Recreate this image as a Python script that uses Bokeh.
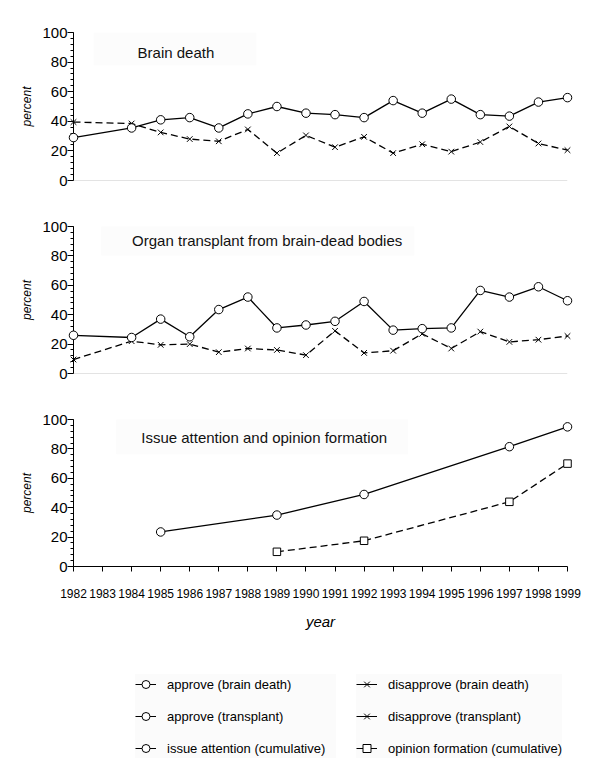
from bokeh.plotting import figure
from bokeh.models import Range1d, FixedTicker, Span, Label, Legend, LegendItem
from bokeh.layouts import column
from bokeh.embed import file_html
from bokeh.resources import INLINE

# ---------------- data ----------------
years_opinion = [1982, 1984, 1985, 1986, 1987, 1988, 1989, 1990, 1991,
                 1992, 1993, 1994, 1995, 1996, 1997, 1998, 1999]
approve_brain_death = [29, 35.5, 41, 42.5, 35.5, 45, 50, 45.5, 44.5,
                       42.5, 54, 45.5, 55, 44.5, 43.5, 53, 56]
disapprove_brain_death = [39.5, 38.5, 32.5, 28, 26.5, 34.5, 18.5, 30.5, 22.5,
                          29.5, 18.5, 24.5, 19.5, 26, 36.5, 25, 20.5]
approve_transplant = [26, 24.5, 37, 25, 43.5, 52, 31, 33, 35.5,
                      49, 29.5, 30.5, 31, 56.5, 52, 59, 49.5]
disapprove_transplant = [9.5, 22, 19.5, 20, 14.5, 17, 16, 12.5, 29,
                         14, 15.5, 27, 17, 28.5, 21.5, 23, 25.5]
years_attention = [1985, 1989, 1992, 1997, 1999]
issue_attention = [23.5, 35, 49, 81.5, 95]
years_formation = [1989, 1992, 1997, 1999]
opinion_formation = [10, 17.5, 44, 70]

year_ticks = [1982, 1983, 1984, 1985, 1986, 1987, 1988, 1989, 1990,
              1991, 1992, 1993, 1994, 1995, 1996, 1997, 1998, 1999]
percent_ticks = [0, 20, 40, 60, 80, 100]
percent_minor = list(range(0, 101, 4))

titles = ["Brain death", "Organ transplant from brain-dead bodies",
          "Issue attention and opinion formation"]
legend_left_labels = ["approve (brain death)", "approve (transplant)",
                      "issue attention (cumulative)"]
legend_left_markers = ["circle", "circle", "circle"]
legend_right_labels = ["disapprove (brain death)", "disapprove (transplant)",
                       "opinion formation (cumulative)"]
legend_right_markers = ["x", "x", "square"]

FONT = "Liberation Sans"
DASH = "7 4"
BORDER_L = 73
BORDER_R = 17
WIDTH = 584


def make_panel(height, top, bottom, show_x):
    p = figure(width=WIDTH, height=height,
               x_range=Range1d(1982, 1999), y_range=Range1d(0, 100),
               x_axis_type="linear" if show_x else None,
               output_backend="svg", toolbar_location=None,
               min_border_left=BORDER_L, min_border_right=BORDER_R,
               min_border_top=top, min_border_bottom=bottom)
    p.outline_line_color = None
    p.grid.visible = False
    p.background_fill_color = "white"
    ax = p.yaxis[0]
    ax.ticker = FixedTicker(ticks=percent_ticks, minor_ticks=percent_minor)
    ax.axis_label = "percent"
    ax.axis_label_text_font = FONT
    ax.axis_label_text_font_style = "italic"
    ax.axis_label_text_font_size = "12px"
    ax.axis_label_text_color = "black"
    ax.axis_label_standoff = 5
    ax.major_label_text_font = FONT
    ax.major_label_text_font_size = "15px"
    ax.major_label_text_color = "black"
    ax.major_label_standoff = 0
    ax.major_tick_out = 6
    ax.major_tick_in = 0
    ax.minor_tick_out = 3
    ax.minor_tick_in = 0
    ax.axis_line_color = "black"
    ax.major_tick_line_color = "black"
    ax.minor_tick_line_color = "black"
    if not show_x:
        p.add_layout(Span(location=0, dimension="width",
                          line_color="#c8c8c8", line_width=1))
    return p


def add_title(p, text, x, y, pad):
    p.add_layout(Label(x=x, y=y, text=text, text_align="left",
                       text_baseline="middle", text_font=FONT,
                       text_font_size="15px", text_color="#111111",
                       background_fill_color="#fcfcfc",
                       padding=pad))


def series(p, xs, ys, marker, dashed, size=8.5):
    p.line(xs, ys, line_color="black", line_width=1.3,
           line_dash=DASH if dashed else "solid", level="overlay")
    p.scatter(xs, ys, marker=marker, size=size, fill_color="white",
              line_color="black", line_width=1, level="overlay")


# Panel 1
p1 = make_panel(200, 32, 20, False)
add_title(p1, titles[0], 1982.69, 89, dict(left=44, right=42, top=12, bottom=4))
series(p1, years_opinion, disapprove_brain_death, "x", True, 8)
series(p1, years_opinion, approve_brain_death, "circle", False)

# Panel 2
p2 = make_panel(192, 26, 19, False)
add_title(p2, titles[1], 1982.95, 91.5, dict(left=31, right=12, top=10, bottom=6))
series(p2, years_opinion, disapprove_transplant, "x", True, 8)
series(p2, years_opinion, approve_transplant, "circle", False)

# Panel 3
p3 = make_panel(248, 27, 74, True)
add_title(p3, titles[2], 1983.47, 89, dict(left=25, right=21, top=12, bottom=8))
series(p3, years_formation, opinion_formation, "square", True, 7.5)
series(p3, years_attention, issue_attention, "circle", False)
xa = p3.xaxis[0]
xa.ticker = FixedTicker(ticks=year_ticks)
xa.axis_label = "year"
xa.axis_label_text_font = FONT
xa.axis_label_text_font_style = "italic"
xa.axis_label_text_font_size = "15px"
xa.axis_label_text_color = "black"
xa.axis_label_standoff = 12
xa.major_label_text_font = FONT
xa.major_label_text_font_size = "12px"
xa.major_label_text_color = "black"
xa.major_label_standoff = 17
xa.major_tick_out = 5
xa.major_tick_in = 0
xa.minor_tick_line_color = None
xa.axis_line_color = "black"
xa.major_tick_line_color = "black"

# Legend panel
pl = figure(width=WIDTH, height=132, x_range=Range1d(0, 1), y_range=Range1d(0, 1),
            x_axis_type=None, y_axis_type=None, output_backend="svg",
            toolbar_location=None, min_border_left=BORDER_L,
            min_border_right=BORDER_R, min_border_top=0, min_border_bottom=0)
pl.outline_line_color = None
pl.grid.visible = False


def legend_items(labels, marks):
    out = []
    for lab, mk in zip(labels, marks):
        lr = pl.line([5, 6], [5, 6], line_color="black", line_width=1)
        sr = pl.scatter([5], [5], marker=mk, size=7 if mk != "square" else 6.5,
                        fill_color="white", line_color="black", line_width=1)
        out.append(LegendItem(label=lab, renderers=[lr, sr]))
    return out


def make_legend(items, x, lw):
    return Legend(items=items, location=(x, 14), orientation="vertical",
                  label_text_font=FONT, label_text_font_size="13px",
                  label_text_color="black", label_height=20, glyph_height=20,
                  glyph_width=21, label_standoff=11, label_width=lw, spacing=12,
                  padding=10, margin=0, background_fill_color="#fbfbfb",
                  background_fill_alpha=1.0, border_line_color=None)


pl.add_layout(make_legend(legend_items(legend_left_labels, legend_left_markers), 62, 169), "center")
pl.add_layout(make_legend(legend_items(legend_right_labels, legend_right_markers), 283, 160), "center")

layout = column(p1, p2, p3, pl, spacing=0)
open("out.html", "w").write(file_html(layout, INLINE))
